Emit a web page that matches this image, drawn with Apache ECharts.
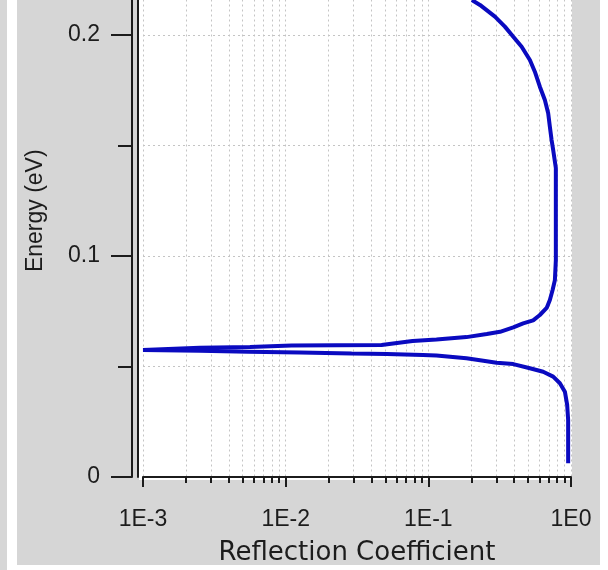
<!DOCTYPE html>
<html><head><meta charset="utf-8">
<script src="https://cdn.jsdelivr.net/npm/echarts@6/dist/echarts.min.js"></script>
<style>
html,body{margin:0;padding:0;background:#fff;}
#wrap{position:relative;width:608px;height:570px;overflow:hidden;}
.panel{position:absolute;background:#d6d6d6;}
.plotback{position:absolute;background:#fff;}
#chart{position:absolute;left:0;top:0;width:608px;height:570px;}
</style></head><body>
<div id="wrap">
<div class="panel" style="left:0;top:0;width:7px;height:570px"></div>
<div class="panel" style="left:17px;top:0;width:583px;height:565px"></div>
<div class="plotback" style="left:139px;top:0;width:433px;height:480px"></div>
<div id="chart"></div>
</div>
<script>
// Curve traced along its path: lower branch (bottom up), minimum, upper branch (to top)
const reflection = [0.955, 0.955, 0.94, 0.906, 0.836, 0.75, 0.638, 0.515, 0.394, 0.301, 0.243, 0.185, 0.114, 0.0916, 0.0511, 0.029, 0.0126, 0.00547, 0.0025, 0.001, 0.001, 0.0025, 0.00562, 0.011, 0.047, 0.0775, 0.114, 0.185, 0.257, 0.318, 0.394, 0.462, 0.543, 0.605, 0.675, 0.711, 0.743, 0.771, 0.783, 0.783, 0.783, 0.75, 0.731, 0.711, 0.692, 0.656, 0.605, 0.558, 0.515, 0.451, 0.394, 0.344, 0.293, 0.230, 0.202];
const energy = [0.0062, 0.0258, 0.0326, 0.0386, 0.0424, 0.0454, 0.0476, 0.0492, 0.0511, 0.0517, 0.0526, 0.0537, 0.0550, 0.0552, 0.0557, 0.0559, 0.0563, 0.0567, 0.0571, 0.0575, 0.0584, 0.0585, 0.0588, 0.0595, 0.0597, 0.0615, 0.0622, 0.0633, 0.0647, 0.0657, 0.0677, 0.0695, 0.0709, 0.0733, 0.0765, 0.0801, 0.0846, 0.0891, 0.0982, 0.1253, 0.1398, 0.148, 0.1525, 0.1585, 0.1646, 0.1706, 0.1766, 0.1834, 0.1887, 0.1947, 0.1992, 0.2038, 0.2083, 0.2136, 0.2158];
const xMajorTicks = [0.001, 0.01, 0.1, 1];
const xTickLabels = ['1E-3', '1E-2', '1E-1', '1E0'];
const xMinorTicks = [0.002, 0.003, 0.004, 0.005, 0.006, 0.007, 0.008, 0.009,
                     0.02, 0.03, 0.04, 0.05, 0.06, 0.07, 0.08, 0.09,
                     0.2, 0.3, 0.4, 0.5, 0.6, 0.7, 0.8, 0.9];
const yTickLabels = ['0', '0.1', '0.2'];
const xTitle = 'Reflection Coefficient';
const yTitle = 'Energy (eV)';

const seriesData = reflection.map((r, i) => [r, energy[i]]);
const ink = '#1c1c1c';
const gridLine = {show: true, lineStyle: {color: '#c4c4c4', width: 1, type: [2, 3]}};
const labelFont = {fontFamily: 'Liberation Sans', fontSize: 23, color: ink};

const chart = echarts.init(document.getElementById('chart'), null, {renderer: 'canvas'});
chart.setOption({
  animation: false,
  backgroundColor: 'transparent',
  grid: {left: 143, right: 37, top: -75.5, bottom: 93, show: true, backgroundColor: '#ffffff', borderWidth: 0,
         containLabel: false, outerBoundsMode: 'none'},
  xAxis: [
    {
      type: 'log', logBase: 10, min: 0.001, max: 1, position: 'bottom', offset: 11,
      axisLine: {show: true, lineStyle: {color: ink, width: 2}},
      axisTick: {show: true, length: 10, customValues: xMajorTicks, lineStyle: {color: ink, width: 2}},
      axisLabel: Object.assign({
        customValues: xMajorTicks, margin: 20,
        formatter: function (v) {
          const i = xMajorTicks.findIndex(t => Math.abs(Math.log10(t) - Math.log10(v)) < 1e-6);
          return i >= 0 ? xTickLabels[i] : '';
        }
      }, labelFont),
      splitLine: gridLine,
      name: xTitle, nameLocation: 'middle', nameGap: 52,
      nameTextStyle: {fontFamily: 'DejaVu Sans', fontSize: 26, color: ink}
    },
    {
      type: 'log', logBase: 10, min: 0.001, max: 1, position: 'bottom', offset: 11,
      axisLine: {show: false},
      axisTick: {show: true, length: 6, customValues: xMinorTicks, lineStyle: {color: ink, width: 2}},
      axisLabel: {show: false},
      splitLine: gridLine
    }
  ],
  yAxis: [
    {
      type: 'value', min: 0, max: 0.25, interval: 0.1, position: 'left', offset: 11,
      axisLine: {show: true, lineStyle: {color: ink, width: 2}},
      axisTick: {show: true, length: 21, lineStyle: {color: ink, width: 2}},
      minorTick: {show: true, splitNumber: 2, length: 14, lineStyle: {color: ink, width: 2}},
      axisLabel: Object.assign({
        margin: 32,
        formatter: function (v) {
          const i = Math.round(v * 10);
          return (Math.abs(v * 10 - i) < 1e-6 && i < yTickLabels.length) ? yTickLabels[i] : '';
        }
      }, labelFont),
      splitLine: gridLine,
      minorSplitLine: gridLine,
      name: yTitle, nameLocation: 'middle', nameGap: 85,
      nameTextStyle: {fontFamily: 'Liberation Sans', fontSize: 23, color: ink, padding: [0, 20, 0, 0]}
    },
    {
      type: 'value', min: 0, max: 0.25, interval: 0.1, position: 'left', offset: 5,
      axisLine: {show: true, lineStyle: {color: ink, width: 2}},
      axisTick: {show: false}, axisLabel: {show: false}, splitLine: {show: false}
    }
  ],
  series: [{
    type: 'line', xAxisIndex: 0, yAxisIndex: 0,
    data: seriesData, showSymbol: false, symbol: 'none', clip: true,
    lineStyle: {color: '#0a0ac0', width: 4}
  }]
});
</script>
</body></html>
